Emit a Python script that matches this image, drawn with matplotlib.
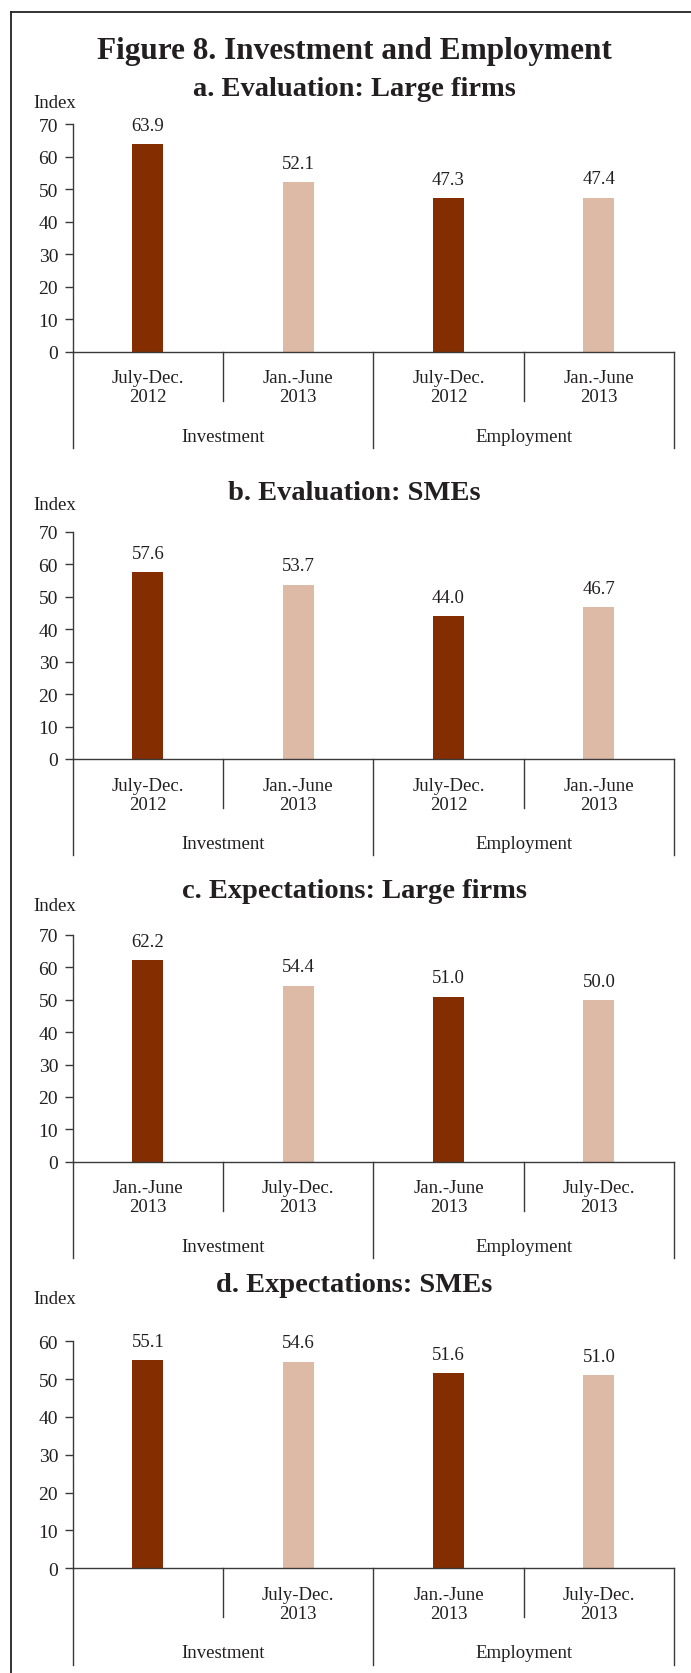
import matplotlib
matplotlib.use("Agg")
import matplotlib.pyplot as plt
from matplotlib.transforms import blended_transform_factory

plt.rcParams['font.family'] = ['Liberation Serif', 'DejaVu Serif']

# values shown on each panel
titles = ["a. Evaluation: Large firms", "b. Evaluation: SMEs",
          "c. Expectations: Large firms", "d. Expectations: SMEs"]
values_a = [63.9, 52.1, 47.3, 47.4]
values_b = [57.6, 53.7, 44.0, 46.7]
values_c = [62.2, 54.4, 51.0, 50.0]
values_d = [55.1, 54.6, 51.6, 51.0]
periods_eval = ["July-Dec.\n2012", "Jan.-June\n2013", "July-Dec.\n2012", "Jan.-June\n2013"]
periods_exp = ["Jan.-June\n2013", "July-Dec.\n2013", "Jan.-June\n2013", "July-Dec.\n2013"]
periods_d = ["", "July-Dec.\n2013", "Jan.-June\n2013", "July-Dec.\n2013"]
groups = ["Investment", "Employment"]
yticks_70 = [0, 10, 20, 30, 40, 50, 60, 70]
yticks_60 = [0, 10, 20, 30, 40, 50, 60]

DARK = "#842D00"
LIGHT = "#DDBAA5"
LINE = "#3a3a3a"
TEXT = "#231F20"

W, H = 691, 1674
fig = plt.figure(figsize=(W / 100, H / 100), dpi=100)

def fx(x):
    return x / W

def fy(y):
    return 1 - y / H

# border on the left and top
fig.add_artist(plt.Line2D([fx(11), fx(11)], [fy(12.5), 0], color="#222222", lw=1.3))
fig.add_artist(plt.Line2D([fx(10.5), 1], [fy(12.5), fy(12.5)], color="#222222", lw=1.3))

fig.text(fx(354), fy(51), "Figure 8. Investment and Employment", ha="center", va="center",
         fontsize=22.5, fontweight="bold", color=TEXT)

# (title, values, periods, ymax, ticks, y of top tick, y of zero, title y, index y)
panels = [
    (titles[0], values_a, periods_eval, 70, yticks_70, 125.3, 352.7, 89, 103.6),
    (titles[1], values_b, periods_eval, 70, yticks_70, 532.7, 760.0, 493, 505),
    (titles[2], values_c, periods_exp, 70, yticks_70, 936.0, 1162.7, 892, 907),
    (titles[3], values_d, periods_d, 60, yticks_60, 1342.3, 1569.3, 1286, 1300),
]

left_px, right_px = 72.7, 674
for title, vals, periods, ymax, ticks, ytop, y0, ty, iy in panels:
    ax = fig.add_axes([fx(left_px), fy(y0), (right_px - left_px) / W, (y0 - ytop) / H])
    h_px = y0 - ytop
    x = range(len(vals))
    colors = [DARK, LIGHT, DARK, LIGHT]
    ax.bar(x, vals, width=0.206, color=colors, zorder=2)
    for xi, v in zip(x, vals):
        ax.annotate(f"{v:.1f}", (xi, v), xytext=(0, 13.5), textcoords="offset points",
                    ha="center", va="center", fontsize=13.5, color=TEXT)
    ax.set_xlim(-0.5, 3.5)
    ax.set_ylim(0, ymax)
    ax.set_yticks(ticks)
    ax.set_xticks([])
    for s in ["top", "right"]:
        ax.spines[s].set_visible(False)
    for s in ["left", "bottom"]:
        ax.spines[s].set_color(LINE)
        ax.spines[s].set_linewidth(1.0)
    ax.tick_params(axis="y", direction="out", length=5.5, width=1.0, color=LINE,
                   labelsize=14, labelcolor=TEXT, pad=5)

    # category separators below the axis
    tr = blended_transform_factory(ax.transData, ax.transAxes)
    short, long_ = 49 / h_px, 96.5 / h_px
    for xs, d in [(-0.5, long_), (0.5, short), (1.5, long_), (2.5, short), (3.5, long_)]:
        ax.plot([xs, xs], [0, -d], transform=tr, color=LINE, lw=1.0, clip_on=False)
    for xi, p in zip(x, periods):
        if p:
            ax.text(xi, -35.6 / h_px, p, transform=tr, ha="center", va="center",
                    fontsize=13.5, color=TEXT, linespacing=1.15)
    for gi, g in enumerate(groups):
        ax.text(0.5 + 2 * gi, -84.5 / h_px, g, transform=tr, ha="center", va="center",
                fontsize=13.5, color=TEXT)

    fig.text(fx(354), fy(ty), title, ha="center", va="center", fontsize=20.5,
             fontweight="bold", color=TEXT)
    fig.text(fx(55), fy(iy), "Index", ha="center", va="center", fontsize=13.5, color=TEXT)

fig.savefig("out.png", dpi=100, facecolor="white")
